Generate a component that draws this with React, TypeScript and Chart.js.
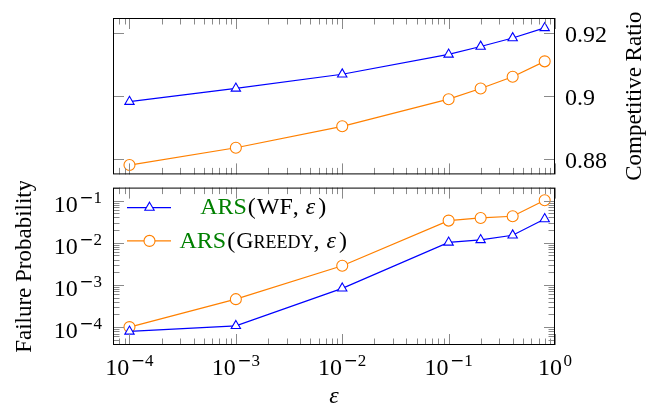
import React, { useEffect, useRef } from 'react';
import { Chart, registerables } from 'chart.js';

Chart.register(...registerables);

// ---------- data ----------
const epsilon = [1e-4, 1e-3, 1e-2, 0.1, 0.2, 0.4, 0.8];
const crWF = [0.8981, 0.9023, 0.9068, 0.9131, 0.9156, 0.9183, 0.9215];
const crGreedy = [0.878, 0.8835, 0.8903, 0.8989, 0.9023, 0.906, 0.9109];
const fpWF = [7.9e-5, 1.07e-4, 8.3e-4, 0.0102, 0.0117, 0.0151, 0.0367];
const fpGreedy = [1.0e-4, 4.6e-4, 2.86e-3, 0.0336, 0.0389, 0.0426, 0.102];

const xTickValues = [1e-4, 1e-3, 1e-2, 1e-1, 1];
const xTickExponents = ['−4', '−3', '−2', '−1', '0'];
const crTickValues = [0.88, 0.9, 0.92];
const crTickLabels = ['0.88', '0.9', '0.92'];
const fpTickValues = [1e-4, 1e-3, 1e-2, 1e-1];
const fpTickExponents = ['−4', '−3', '−2', '−1'];

const seriesLabels = ['ARS(WF, ε)', 'ARS(Greedy, ε)'];
const xTitle = 'ε';
const crTitle = 'Competitive Ratio';
const fpTitle = 'Failure Probability';

const xMin = 7.4e-5;
const xMax = 1;
const crMin = 0.87504;
const crMax = 0.92465;
const fpMin = 3.76e-5;
const fpMax = 0.204;

// ---------- style ----------
const BLUE = 'rgb(0,0,255)';
const ORANGE = 'rgb(255,128,0)';
const GREEN = 'rgb(0,128,0)';
const SERIF = '"Liberation Serif", "Times New Roman", serif';
const SANS = '"DejaVu Sans", sans-serif';
const TICK_COLOR = '#8a8a8a';
const MAJ = 11;
const MIN = 6.5;

function line(ctx: CanvasRenderingContext2D, x1: number, y1: number, x2: number, y2: number) {
  ctx.beginPath();
  ctx.moveTo(x1, y1);
  ctx.lineTo(x2, y2);
  ctx.stroke();
}

function minorLogValues(lo: number, hi: number) {
  const out: number[] = [];
  for (let k = -6; k <= 1; k++) {
    for (let m = 2; m <= 9; m++) {
      const v = m * Math.pow(10, k);
      if (v > lo && v < hi) out.push(v);
    }
  }
  return out;
}

function drawFrameTicks(chart: any, yLog: boolean, yMajors: number[]) {
  const ctx: CanvasRenderingContext2D = chart.ctx;
  const a = chart.chartArea;
  const xs = chart.scales.x;
  const ys = chart.scales.y;
  ctx.save();
  ctx.strokeStyle = TICK_COLOR;
  ctx.lineWidth = 1;
  const xt = (v: number, len: number) => {
    const px = Math.round(xs.getPixelForValue(v)) + 0.5;
    line(ctx, px, a.top, px, a.top + len);
    line(ctx, px, a.bottom, px, a.bottom - len);
  };
  const yt = (v: number, len: number) => {
    const py = Math.round(ys.getPixelForValue(v)) + 0.5;
    line(ctx, a.left, py, a.left + len, py);
    line(ctx, a.right, py, a.right - len, py);
  };
  xTickValues.forEach((v) => xt(v, MAJ));
  minorLogValues(xMin, xMax).forEach((v) => xt(v, MIN));
  yMajors.forEach((v) => yt(v, MAJ));
  if (yLog) minorLogValues(fpMin, fpMax).forEach((v) => yt(v, MIN));
  ctx.strokeStyle = '#000';
  ctx.lineWidth = 1;
  ctx.strokeRect(a.left + 0.5, a.top + 0.5, a.right - a.left - 1, a.bottom - a.top - 1);
  ctx.restore();
}

// draws "10" with a raised exponent; the minus sign uses a wider glyph like TeX's
function drawPow(ctx: CanvasRenderingContext2D, exp: string, x: number, baseline: number, align: 'center' | 'right') {
  const neg = exp.startsWith('−');
  const digits = neg ? exp.slice(1) : exp;
  ctx.font = `24px ${SERIF}`;
  const wb = ctx.measureText('10').width;
  ctx.font = `17px ${SANS}`;
  const wm = neg ? ctx.measureText('−').width : 0;
  ctx.font = `17px ${SERIF}`;
  const wd = ctx.measureText(digits).width;
  const gap = 1.5;
  const total = wb + gap + wm + wd;
  const x0 = align === 'center' ? x - total / 2 : x - total;
  ctx.textAlign = 'left';
  ctx.textBaseline = 'alphabetic';
  ctx.fillStyle = '#000';
  ctx.font = `24px ${SERIF}`;
  ctx.fillText('10', x0, baseline);
  let xe = x0 + wb + gap;
  if (neg) {
    ctx.font = `17px ${SANS}`;
    ctx.fillText('−', xe, baseline - 9);
    xe += wm;
  }
  ctx.font = `17px ${SERIF}`;
  ctx.fillText(digits, xe, baseline - 9);
}

function drawRotatedTitle(ctx: CanvasRenderingContext2D, text: string, x: number, y: number) {
  ctx.save();
  ctx.translate(x, y);
  ctx.rotate(-Math.PI / 2);
  ctx.font = `23px ${SERIF}`;
  ctx.fillStyle = '#000';
  ctx.textAlign = 'center';
  ctx.textBaseline = 'alphabetic';
  ctx.fillText(text, 0, 0);
  ctx.restore();
}

type Piece = { t: string; color: string; style: 'n' | 'i' | 'sc' | 'gap' };

function richPieces(label: string): Piece[] {
  const out: Piece[] = [];
  let rest = label;
  if (rest.startsWith('ARS')) {
    out.push({ t: 'ARS', color: GREEN, style: 'n' });
    rest = rest.slice(3);
  }
  const tokens = rest.match(/[A-Za-z]+|ε|\s+|[^A-Za-z\sε]/g) || [];
  tokens.forEach((tk) => {
    if (tk === 'ε') out.push({ t: tk, color: '#000', style: 'i' });
    else if (/^\s+$/.test(tk)) out.push({ t: ' ', color: '#000', style: 'gap' });
    else if (/^[A-Z][a-z]+$/.test(tk)) {
      out.push({ t: tk[0], color: '#000', style: 'n' });
      out.push({ t: tk.slice(1).toUpperCase(), color: '#000', style: 'sc' });
    } else out.push({ t: tk, color: '#000', style: 'n' });
  });
  return out;
}

const LEG = 24;
function pieceFont(p: Piece) {
  if (p.style === 'i') return `italic ${LEG}px ${SERIF}`;
  if (p.style === 'sc') return `${Math.round(LEG * 0.76)}px ${SERIF}`;
  return `${LEG}px ${SERIF}`;
}
function piecePad(p: Piece) {
  return p.style === 'i' ? 2 : p.t === '(' || p.t === ')' ? 1 : 0;
}
function pieceWidth(ctx: CanvasRenderingContext2D, p: Piece) {
  if (p.style === 'gap') return 5;
  ctx.font = pieceFont(p);
  return ctx.measureText(p.t).width + 2 * piecePad(p);
}

function drawMarker(ctx: CanvasRenderingContext2D, kind: 'tri' | 'circ', x: number, y: number, color: string) {
  ctx.save();
  ctx.strokeStyle = color;
  ctx.fillStyle = '#fff';
  ctx.lineWidth = 1.1;
  ctx.beginPath();
  if (kind === 'circ') {
    ctx.arc(x, y, 5.5, 0, Math.PI * 2);
  } else {
    const r = 5.4;
    for (let i = 0; i < 3; i++) {
      const ang = (i * 2 * Math.PI) / 3;
      const px = x + Math.sin(ang) * r;
      const py = y - Math.cos(ang) * r;
      if (i === 0) ctx.moveTo(px, py);
      else ctx.lineTo(px, py);
    }
    ctx.closePath();
  }
  ctx.fill();
  ctx.stroke();
  ctx.restore();
}

const topPlugin = {
  id: 'topDecor',
  afterDraw(chart: any) {
    const ctx: CanvasRenderingContext2D = chart.ctx;
    const a = chart.chartArea;
    drawFrameTicks(chart, false, crTickValues);
    ctx.save();
    ctx.font = `24px ${SERIF}`;
    ctx.fillStyle = '#000';
    ctx.textAlign = 'left';
    ctx.textBaseline = 'alphabetic';
    crTickValues.forEach((v, i) => {
      const py = chart.scales.y.getPixelForValue(v);
      ctx.fillText(crTickLabels[i], a.right + 10, py + 9.5);
    });
    ctx.restore();
    drawRotatedTitle(ctx, crTitle, 641, (a.top + a.bottom) / 2);
  },
};

const bottomPlugin = {
  id: 'bottomDecor',
  afterDraw(chart: any) {
    const ctx: CanvasRenderingContext2D = chart.ctx;
    const a = chart.chartArea;
    drawFrameTicks(chart, true, fpTickValues);
    ctx.save();
    xTickValues.forEach((v, i) => {
      const px = chart.scales.x.getPixelForValue(v);
      drawPow(ctx, xTickExponents[i], px, a.bottom + 30, 'center');
    });
    fpTickValues.forEach((v, i) => {
      const py = chart.scales.y.getPixelForValue(v);
      drawPow(ctx, fpTickExponents[i], a.left - 11, py + 11, 'right');
    });
    ctx.font = `italic 24px ${SERIF}`;
    ctx.fillStyle = '#000';
    ctx.textAlign = 'center';
    ctx.textBaseline = 'alphabetic';
    ctx.fillText(xTitle, (a.left + a.right) / 2, a.bottom + 58);
    ctx.restore();
    drawRotatedTitle(ctx, fpTitle, 31, (a.top + a.bottom) / 2);

    // legend
    const rows = [
      { label: chart.data.datasets[0].label, color: BLUE, kind: 'tri' as const, dy: 20 },
      { label: chart.data.datasets[1].label, color: ORANGE, kind: 'circ' as const, dy: 53.3 },
    ];
    const piecesList = rows.map((r) => richPieces(r.label));
    const widths = piecesList.map((ps) => ps.reduce((s, p) => s + pieceWidth(ctx, p), 0));
    const colStart = a.left + 66.5;
    const colW = Math.max(...widths);
    const colCenter = colStart + colW / 2;
    rows.forEach((r, i) => {
      const y = a.top + r.dy;
      ctx.save();
      ctx.strokeStyle = r.color;
      ctx.lineWidth = 1.2;
      line(ctx, a.left + 14, y, a.left + 58, y);
      ctx.restore();
      drawMarker(ctx, r.kind, a.left + 36.5, y, r.color);
      let x = colCenter - widths[i] / 2;
      ctx.save();
      ctx.textAlign = 'left';
      ctx.textBaseline = 'alphabetic';
      piecesList[i].forEach((p) => {
        const w = pieceWidth(ctx, p);
        if (p.style !== 'gap') {
          ctx.font = pieceFont(p);
          ctx.fillStyle = p.color;
          ctx.fillText(p.t, x + piecePad(p), y + 6.8);
        }
        x += w;
      });
      ctx.restore();
    });
  },
};

function dataset(label: string, ys: number[], color: string, style: string, radius: number) {
  return {
    label,
    data: epsilon.map((e, i) => ({ x: e, y: ys[i] })),
    borderColor: color,
    borderWidth: 1.2,
    pointStyle: style,
    pointRadius: radius,
    pointBorderWidth: 1.1,
    pointBorderColor: color,
    pointBackgroundColor: '#fff',
    tension: 0,
    fill: false,
  };
}

function baseOptions(yType: string, yMinV: number, yMaxV: number, padding: any) {
  return {
    responsive: false,
    animation: false,
    devicePixelRatio: 1,
    events: [],
    layout: { padding },
    plugins: { legend: { display: false }, tooltip: { enabled: false } },
    scales: {
      x: { type: 'logarithmic', min: xMin, max: xMax, display: false },
      y: { type: yType, min: yMinV, max: yMaxV, display: false },
    },
  } as any;
}

export default function App() {
  const topRef = useRef<HTMLCanvasElement>(null);
  const botRef = useRef<HTMLCanvasElement>(null);

  useEffect(() => {
    const top = new Chart(topRef.current!, {
      type: 'line',
      data: {
        datasets: [
          dataset(seriesLabels[0], crWF, BLUE, 'triangle', 5.4),
          dataset(seriesLabels[1], crGreedy, ORANGE, 'circle', 5.5),
        ],
      },
      options: baseOptions('linear', crMin, crMax, { left: 113, top: 18, right: 91, bottom: 3 }),
      plugins: [topPlugin],
    } as any);
    const bot = new Chart(botRef.current!, {
      type: 'line',
      data: {
        datasets: [
          dataset(seriesLabels[0], fpWF, BLUE, 'triangle', 5.4),
          dataset(seriesLabels[1], fpGreedy, ORANGE, 'circle', 5.5),
        ],
      },
      options: baseOptions('logarithmic', fpMin, fpMax, { left: 113, top: 3, right: 91, bottom: 60 }),
      plugins: [bottomPlugin],
    } as any);
    return () => {
      top.destroy();
      bot.destroy();
    };
  }, []);

  return (
    <div style={{ position: 'fixed', left: 0, top: 0, width: 646, height: 405, background: '#fff' }}>
      <canvas ref={topRef} width={646} height={181} style={{ position: 'absolute', left: 0, top: 0, width: 646, height: 181 }} />
      <canvas ref={botRef} width={646} height={224} style={{ position: 'absolute', left: 0, top: 181, width: 646, height: 224 }} />
    </div>
  );
}
